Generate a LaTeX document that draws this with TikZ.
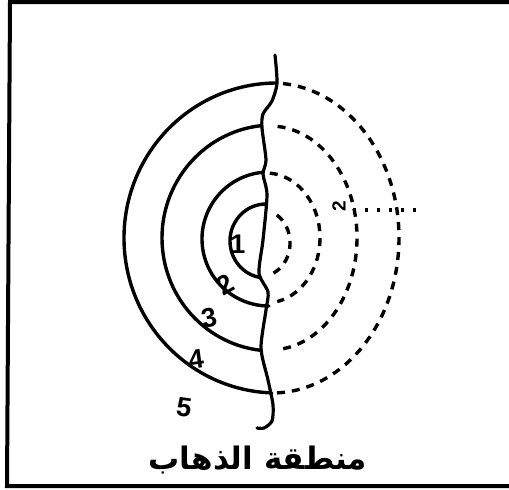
\documentclass[tikz,border=0pt]{standalone}
\usepackage{fontspec}
\usepackage{tikz}
\usetikzlibrary{positioning}
\TeXXeTstate=1
\newfontfamily\arabicfont[Script=Arabic]{DejaVu Sans}
\newfontfamily\numfont{Liberation Sans}
\tikzset{
  frameline/.style={line width=4pt},
  zonearc/.style={line width=3.4pt, line cap=round},
  backarc/.style={line width=3.4pt, dash pattern=on 8pt off 7pt},
  dotline/.style={line width=3.6pt, dash pattern=on 3pt off 9pt},
  borderline/.style={line width=3.2pt, line cap=round, line join=round},
  ringlabel/.style={font=\numfont\bfseries\fontsize{27}{27}\selectfont, inner sep=0pt},
  zonetitle/.style={font=\arabicfont\bfseries\fontsize{31}{31}\selectfont, inner sep=0pt},
}

\begin{document}
\begin{tikzpicture}[x=1pt, y=-1pt]
  \useasboundingbox (0,0) rectangle (509,490);

  % Frame (left, top, bottom)
  \draw[frameline] (509,2) -- (10,2) -- (7,486) -- (509,486);

  % Solid rings (outgoing side)
  \draw[zonearc] (266,241) ++(-90:36 and 37) arc[start angle=-90, end angle=-260, x radius=36, y radius=37];
  \draw[zonearc] (269,239) ++(-96:67 and 67) arc[start angle=-96, end angle=-270, x radius=67, y radius=67];
  \draw[zonearc] (273,238) ++(-96:111 and 113) arc[start angle=-96, end angle=-264, x radius=111, y radius=113];
  \draw[zonearc] (277,238) ++(-90:153 and 155) arc[start angle=-90, end angle=-268, x radius=153, y radius=155];

  % Dashed rings (other side)
  \draw[backarc] (262,243) ++(-58:28 and 33) arc[start angle=-58, end angle=73, x radius=28, y radius=33];
  \draw[backarc] (266,238) ++(-86:54 and 65) arc[start angle=-86, end angle=78, x radius=54, y radius=65];
  \draw[backarc] (270,238) ++(-85:87 and 112) arc[start angle=-85, end angle=85, x radius=87, y radius=112];
  \draw[backarc] (272,238) ++(-85:127 and 155) arc[start angle=-85, end angle=88, x radius=127, y radius=155];

  % Wavy border line
  \draw[borderline] plot[smooth, tension=0.45] coordinates {
    (275,55) (277,83) (272,101) (263,114) (262,128) (266,160) (263,174)
    (267,195) (263,240) (259,273) (268,292) (266,310) (261,348)
    (268,380) (273,405) (272,421) (264,428) (257,428)};

  % Ring numbers
  \node[ringlabel] (n1) at (238,244) {1};
  \node[ringlabel, rotate=30] (n2) at (225,285) {2};
  \node[ringlabel, rotate=12] (n3) at (209,318) {3};
  \node[ringlabel, rotate=8] (n4) at (196,359) {4};
  \node[ringlabel, rotate=-8] (n5) at (184,407) {5};

  % Marker on the far side
  \node[ringlabel, font=\numfont\bfseries\fontsize{19}{19}\selectfont, rotate=90] (farmark) at (339,206) {2};
  \coordinate (dotstart) at (353,210);
  \coordinate (dotend) at (416,210);
  \draw[dotline] (dotstart) -- (dotend);

  % Zone title
  \node[zonetitle] (title) at (258,460) {\beginR منطقة الذهاب\endR};
\end{tikzpicture}
\end{document}
